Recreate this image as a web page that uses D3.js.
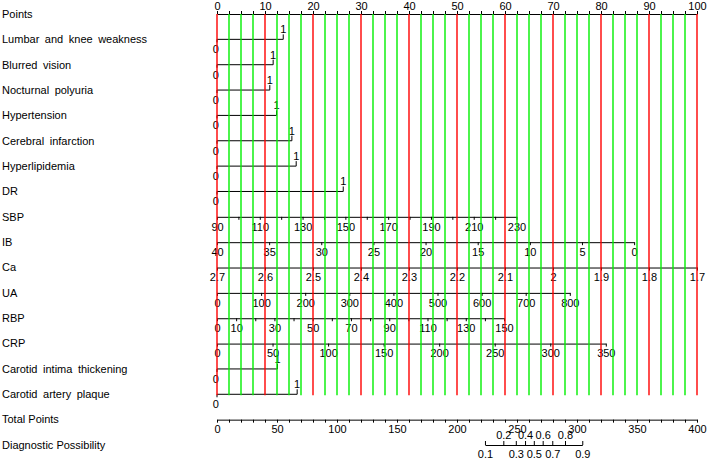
<!DOCTYPE html>
<html>
<head>
<meta charset="utf-8">
<script src="https://cdn.jsdelivr.net/npm/d3@7"></script>
<style>
  body { margin: 0; background: #fff; }
  svg { display: block; font-family: "Liberation Sans", Arial, sans-serif; }
</style>
</head>
<body>
<div id="chart"></div>
<script>
// nomogram, values
const WIDTH = 708;
const HEIGHT = 461;
const FONT = 11;

const rowNames = ["Points", "Lumbar and knee weakness", "Blurred vision", "Nocturnal polyuria",
  "Hypertension", "Cerebral infarction", "Hyperlipidemia", "DR", "SBP", "IB", "Ca", "UA", "RBP",
  "CRP", "Carotid intima thickening", "Carotid artery plaque", "Total Points", "Diagnostic Possibility"];

// binary predictors: points for value 1 (0 always sits at 0 points)
const binaryNames = ["Lumbar and knee weakness", "Blurred vision", "Nocturnal polyuria", "Hypertension",
  "Cerebral infarction", "Hyperlipidemia", "DR", "Carotid intima thickening", "Carotid artery plaque"];
const binaryPoints = [13.8, 11.7, 11.0, 12.4, 15.6, 16.5, 26.3, 12.6, 16.7];

// continuous predictors
const contNames = ["SBP", "IB", "Ca", "UA", "RBP", "CRP"];
const contDomain = [[90, 230], [40, 0], [2.7, 1.7], [0, 800], [0, 150], [0, 350]];
const contPoints = [[0, 62.4], [0, 86.9], [0, 100], [0, 73.5], [0, 59.8], [0, 81.0]];
const contTicks = [
  [90, 100, 110, 120, 130, 140, 150, 160, 170, 180, 190, 200, 210, 220, 230],
  [40, 35, 30, 25, 20, 15, 10, 5, 0],
  [2.7, 2.6, 2.5, 2.4, 2.3, 2.2, 2.1, 2, 1.9, 1.8, 1.7],
  [0, 100, 200, 300, 400, 500, 600, 700, 800],
  [0, 10, 20, 30, 40, 50, 60, 70, 80, 90, 100, 110, 120, 130, 140, 150],
  [0, 50, 100, 150, 200, 250, 300, 350]
];
const contLabels = [
  [90, 110, 130, 150, 170, 190, 210, 230],
  [40, 35, 30, 25, 20, 15, 10, 5, 0],
  [2.7, 2.6, 2.5, 2.4, 2.3, 2.2, 2.1, 2, 1.9, 1.8, 1.7],
  [0, 100, 200, 300, 400, 500, 600, 700, 800],
  [0, 10, 30, 50, 70, 90, 110, 130, 150],
  [0, 50, 100, 150, 200, 250, 300, 350]
];

const pointLabels = [0, 10, 20, 30, 40, 50, 60, 70, 80, 90, 100];
const totalLabels = [0, 50, 100, 150, 200, 250, 300, 350, 400];

// diagnostic probability and its position on the total points scale
const diagProbs = [0.1, 0.2, 0.3, 0.4, 0.5, 0.6, 0.7, 0.8, 0.9];
const diagTotal = [223.3, 238.6, 249.0, 256.7, 264.0, 271.4, 279.4, 290.0, 304.4];

const svg = d3.select("#chart").append("svg")
  .attr("width", WIDTH)
  .attr("height", HEIGHT);

const x = d3.scaleLinear().domain([0, 100]).range([217, 697]);
const xTotal = d3.scaleLinear().domain([0, 400]).range([217, 697]);
const y = d3.scalePoint().domain(rowNames).range([14, 445]);

// row labels
svg.append("g").selectAll("text")
  .data(rowNames)
  .join("text")
  .attr("x", 2)
  .attr("y", d => y(d))
  .attr("dy", "0.35em")
  .attr("font-size", FONT)
  .attr("word-spacing", d => (d === "Total Points" || d === "Diagnostic Possibility") ? 0 : 2.5)
  .text(d => d);

function styleAxis(g) {
  g.attr("font-size", FONT).attr("font-family", null);
  g.select(".domain").attr("stroke", "#000");
  g.selectAll(".tick line").attr("stroke", "#000");
  g.selectAll(".tick text").attr("fill", "#000");
}

// points axis
svg.append("g")
  .attr("transform", `translate(0,${y("Points")})`)
  .call(d3.axisTop(x).tickValues(d3.range(0, 101, 2.5))
    .tickFormat(d => pointLabels.includes(d) ? d : "")
    .tickSize(3).tickSizeOuter(0).tickPadding(1))
  .call(styleAxis);

// binary predictors: bracket from 0 to the points of value 1
binaryNames.forEach((name, i) => {
  const g = svg.append("g").attr("transform", `translate(0,${y(name)})`);
  const p = binaryPoints[i];
  g.append("line")
    .attr("x1", x(0)).attr("x2", x(p))
    .attr("stroke", "#000");
  g.append("line")
    .attr("x1", x(p)).attr("x2", x(p))
    .attr("y1", -5).attr("y2", 0)
    .attr("stroke", "#000");
  g.append("line")
    .attr("x1", x(0)).attr("x2", x(0))
    .attr("y1", 0).attr("y2", 3)
    .attr("stroke", "#000");
  g.append("text")
    .attr("x", x(p)).attr("y", -10)
    .attr("dy", "0.35em").attr("text-anchor", "middle")
    .attr("font-size", FONT)
    .text("1");
  g.append("text")
    .attr("x", x(0) - 1.2).attr("y", 10)
    .attr("dy", "0.35em").attr("text-anchor", "middle")
    .attr("font-size", FONT)
    .attr("fill", "#000")
    .text("0");
});

// continuous predictors
contNames.forEach((name, i) => {
  const scale = d3.scaleLinear()
    .domain(contDomain[i])
    .range(contPoints[i].map(x));
  svg.append("g")
    .attr("transform", `translate(0,${y(name)})`)
    .call(d3.axisBottom(scale).tickValues(contTicks[i])
      .tickFormat(d => contLabels[i].includes(d) ? String(d) : "")
      .tickSize(3).tickSizeOuter(0))
    .call(styleAxis);
});

// total points axis
svg.append("g")
  .attr("transform", `translate(0,${y("Total Points")})`)
  .call(d3.axisBottom(xTotal).tickValues(d3.range(0, 401, 10))
    .tickFormat(d => totalLabels.includes(d) ? d : "")
    .tickSize(3).tickSizeOuter(0))
  .call(styleAxis);

// diagnostic possibility axis, labels alternate above / below
const diagScale = d3.scaleLinear().domain(diagProbs).range(diagTotal.map(xTotal));
const fmtProb = d3.format(".1f");
const isEven = d => Math.round(d * 10) % 2 === 0;
svg.append("g")
  .attr("transform", `translate(0,${y("Diagnostic Possibility")})`)
  .call(d3.axisTop(diagScale).tickValues(diagProbs)
    .tickFormat(d => isEven(d) ? fmtProb(d) : "")
    .tickSize(4).tickSizeOuter(0).tickPadding(2))
  .call(styleAxis);
svg.append("g")
  .attr("transform", `translate(0,${y("Diagnostic Possibility")})`)
  .call(d3.axisBottom(diagScale).tickValues(diagProbs)
    .tickFormat(d => isEven(d) ? "" : fmtProb(d))
    .tickSize(0).tickSizeOuter(0).tickPadding(5))
  .call(styleAxis)
  .call(g => g.select(".domain").remove());

// vertical reference lines: red every 10 points, green in between
svg.append("g").selectAll("line")
  .data(d3.range(0, 101, 2.5))
  .join("line")
  .attr("x1", d => x(d)).attr("x2", d => x(d))
  .attr("y1", y("Points")).attr("y2", y("Carotid artery plaque") + 1)
  .attr("stroke", d => d % 10 === 0 ? "#ff0000" : "#00f000")
  .attr("stroke-width", 1.4);
</script>
</body>
</html>
